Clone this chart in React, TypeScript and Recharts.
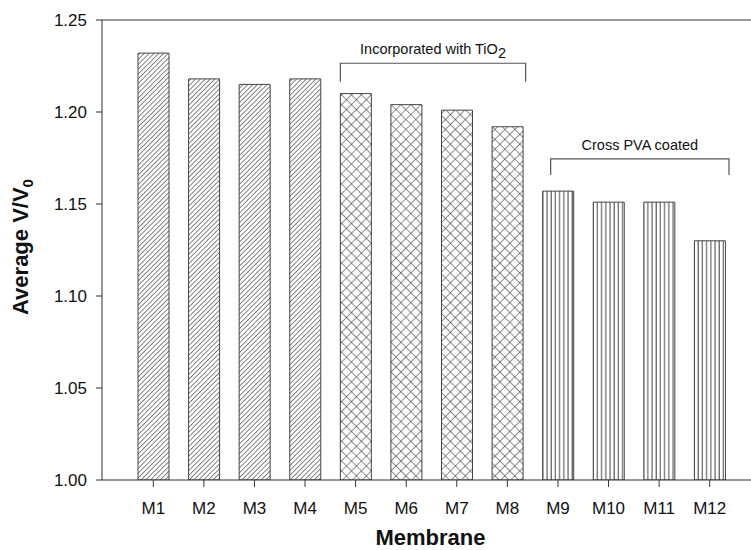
import { BarChart, Bar, Cell, XAxis, YAxis, ReferenceLine, ReferenceArea } from "recharts";

// membrane labels and measured V/V0
const membranes = ["M1", "M2", "M3", "M4", "M5", "M6", "M7", "M8", "M9", "M10", "M11", "M12"];
const ratios = [1.232, 1.218, 1.215, 1.218, 1.21, 1.204, 1.201, 1.192, 1.157, 1.151, 1.151, 1.13];
const patternOf = ["hatch", "hatch", "hatch", "hatch", "cross", "cross", "cross", "cross", "vert", "vert", "vert", "vert"];
const yTicks = [1.0, 1.05, 1.1, 1.15, 1.2, 1.25];

// group brackets: first/last member, bracket bottom/top in data units
const bracketFrom = ["M5", "M9"];
const bracketTo = ["M8", "M12"];
const bracketLow = [1.2165, 1.1658];
const bracketHigh = [1.2265, 1.1745];
const bracketText = ["Incorporated with TiO", "Cross PVA coated"];
const bracketSub = ["2", ""];

// pixel insets of brackets inside the category bands
const bracketInset = [
  [10, 7],
  [18, 6],
];

const data = membranes.map((name, i) => ({ name, value: ratios[i], pattern: patternOf[i] }));

const FONT = '"Liberation Sans", Arial, sans-serif';
const INK = "#333";

function bracketShape(i: number) {
  return (props: any) => {
    const { x, y, width, height } = props;
    const [l, r] = bracketInset[i];
    const x1 = x + l;
    const x2 = x + width - r;
    return (
      <g>
        <path d={`M${x1},${y + height}L${x1},${y}L${x2},${y}L${x2},${y + height}`} fill="none" stroke="#555" strokeWidth={1.2} />
        <text x={(x1 + x2) / 2} y={y - 9} textAnchor="middle" fontFamily={FONT} fontSize={14.5} fill="#111">
          {bracketText[i]}
          {bracketSub[i] && (
            <tspan dy={4} fontSize={14.5}>
              {bracketSub[i]}
            </tspan>
          )}
        </text>
      </g>
    );
  };
}

function YTitle(props: any) {
  const vb = props.viewBox;
  const cx = vb.x + 28;
  const cy = vb.y + vb.height / 2 - 3;
  return (
    <text x={cx} y={cy} transform={`rotate(-90, ${cx}, ${cy})`} textAnchor="middle" fontFamily={FONT} fontSize={22} fontWeight="bold" fill="#111">
      Average V/V
      <tspan dy={5} fontSize={15}>
        0
      </tspan>
    </text>
  );
}

function XTitle(props: any) {
  const vb = props.viewBox;
  return (
    <text x={vb.x + vb.width / 2 + 4} y={vb.y + 65} textAnchor="middle" fontFamily={FONT} fontSize={22} fontWeight="bold" fill="#111">
      Membrane
    </text>
  );
}

export default function App() {
  return (
    <div style={{ position: "absolute", left: 0, top: 0, background: "#fff" }}>
      <BarChart width={751} height={550} data={data} margin={{ top: 20, right: 0, bottom: 0, left: 0 }}>
        <defs>
          <pattern id="hatch" patternUnits="userSpaceOnUse" width={3.4} height={3.4} patternTransform="rotate(45)">
            <rect width={3.4} height={3.4} fill="#fff" />
            <line x1={0} y1={0} x2={0} y2={3.4} stroke="#444" strokeWidth={1.3} />
          </pattern>
          <pattern id="cross" patternUnits="userSpaceOnUse" width={7} height={7} patternTransform="rotate(45)">
            <rect width={7} height={7} fill="#fff" />
            <line x1={0} y1={0} x2={0} y2={7} stroke="#333" strokeWidth={1.1} />
            <line x1={0} y1={0} x2={7} y2={0} stroke="#333" strokeWidth={1.1} />
          </pattern>
          <pattern id="vert" patternUnits="userSpaceOnUse" width={4.2} height={10}>
            <rect width={4.2} height={10} fill="#fff" />
            <line x1={1} y1={0} x2={1} y2={10} stroke="#444" strokeWidth={1} />
          </pattern>
        </defs>
        <XAxis
          dataKey="name"
          height={70}
          padding={{ left: 26, right: 16 }}
          tickSize={7}
          tickMargin={15}
          stroke={INK}
          tick={{ fontSize: 17, fill: "#111", fontFamily: FONT }}
          tickLine={{ stroke: INK }}
          label={<XTitle />}
        />
        <YAxis
          width={102}
          domain={[1.0, 1.25]}
          ticks={yTicks}
          allowDataOverflow
          tickSize={6}
          tickMargin={9}
          stroke={INK}
          tickFormatter={(v: number) => v.toFixed(2)}
          tick={{ fontSize: 17, fill: "#111", fontFamily: FONT }}
          label={<YTitle />}
        />
        <ReferenceLine y={1.25} stroke={INK} strokeWidth={1} />
        {bracketFrom.map((from, i) => (
          <ReferenceArea
            key={from}
            x1={from}
            x2={bracketTo[i]}
            y1={bracketLow[i]}
            y2={bracketHigh[i]}
            ifOverflow="visible"
            shape={bracketShape(i)}
          />
        ))}
        <Bar dataKey="value" barSize={31} stroke="#444" strokeWidth={1} isAnimationActive={false}>
          {data.map((d) => (
            <Cell key={d.name} fill={`url(#${d.pattern})`} />
          ))}
        </Bar>
      </BarChart>
    </div>
  );
}
